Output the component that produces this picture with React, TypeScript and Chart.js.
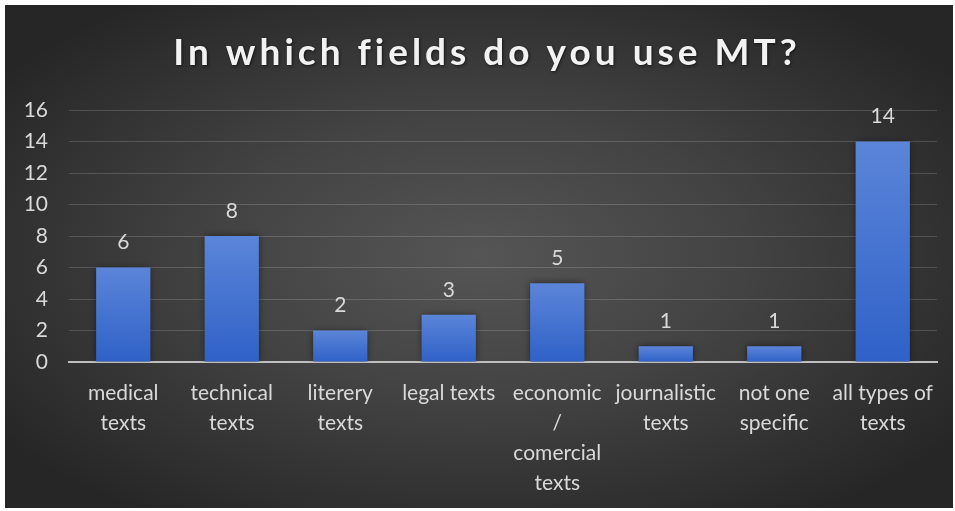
import React, { useEffect, useRef } from "react";
import { Chart, registerables } from "chart.js";

Chart.register(...registerables);

const titleText = "In which fields do you use MT?";
const categories: string[][] = [
  ["medical", "texts"],
  ["technical", "texts"],
  ["literery", "texts"],
  ["legal texts"],
  ["economic", "/", "comercial", "texts"],
  ["journalistic", "texts"],
  ["not one", "specific"],
  ["all types of", "texts"],
];
const values: number[] = [6, 8, 2, 3, 5, 1, 1, 14];
const yMax = 16;
const yStep = 2;

const FONT = "Lato, 'Open Sans', sans-serif";
const TEXT = "#d9d9d9";

const bgPlugin = {
  id: "bgPlugin",
  beforeDraw(chart: any) {
    const { ctx, width, height } = chart;
    ctx.save();
    ctx.fillStyle = "#2a2a2a";
    ctx.fillRect(0, 0, width, height);
    ctx.translate(width / 2, height / 2);
    ctx.scale(1, height / width);
    const r = width * 0.62;
    const g = ctx.createRadialGradient(0, 0, 0, 0, 0, r);
    g.addColorStop(0, "#555555");
    g.addColorStop(0.45, "#434343");
    g.addColorStop(1, "#262626");
    ctx.fillStyle = g;
    ctx.fillRect(-r, -r, 2 * r, 2 * r);
    ctx.restore();

    // title
    ctx.save();
    ctx.font = `bold 37px ${FONT}`;
    (ctx as any).letterSpacing = "4px";
    ctx.textAlign = "center";
    ctx.textBaseline = "alphabetic";
    ctx.fillStyle = "#f2f2f2";
    ctx.shadowColor = "rgba(0,0,0,0.6)";
    ctx.shadowBlur = 3;
    ctx.shadowOffsetX = 1;
    ctx.shadowOffsetY = 1;
    ctx.fillText(titleText, width / 2 + 8, 60);
    ctx.restore();
  },
  beforeDatasetsDraw(chart: any) {
    const ctx = chart.ctx;
    ctx.save();
    ctx.shadowColor = "rgba(0,0,0,0.55)";
    ctx.shadowBlur = 7;
    ctx.shadowOffsetX = 0;
    ctx.shadowOffsetY = 0;
  },
  afterDatasetsDraw(chart: any) {
    const ctx = chart.ctx;
    ctx.restore();
    const meta = chart.getDatasetMeta(0);
    ctx.save();
    ctx.fillStyle = TEXT;
    ctx.font = `21px ${FONT}`;
    ctx.textAlign = "center";
    ctx.textBaseline = "middle";
    meta.data.forEach((bar: any, i: number) => {
      ctx.fillText(String(chart.data.datasets[0].data[i]), bar.x, bar.y - 25);
    });
    ctx.restore();
  },
};

export default function App() {
  const ref = useRef<HTMLCanvasElement | null>(null);
  useEffect(() => {
    document.body.style.margin = "0";
    document.body.style.background = "#ffffff";
    const canvas = ref.current!;
    const chart = new Chart(canvas, {
      type: "bar",
      data: {
        labels: categories,
        datasets: [
          {
            data: values,
            backgroundColor: (c: any) => {
              const ch = c.chart;
              const ys = ch.scales && ch.scales.y;
              if (!ch.chartArea || !ys || c.raw === undefined) return "#4472c4";
              const top = ys.getPixelForValue(c.raw);
              const bot = ys.getPixelForValue(0);
              const g = ch.ctx.createLinearGradient(0, top, 0, bot);
              g.addColorStop(0, "#5b85d9");
              g.addColorStop(1, "#2f61c7");
              return g;
            },
            borderWidth: 0,
            barPercentage: 0.5,
            categoryPercentage: 1,
          },
        ],
      },
      options: {
        responsive: false,
        animation: false,
        layout: { padding: { left: 0, right: 16, top: 105, bottom: 0 } },
        plugins: {
          legend: { display: false },
          tooltip: { enabled: false },
          title: { display: false },
        },
        scales: {
          x: {
            grid: { display: false, drawTicks: false },
            border: { display: true, color: "#bfbfbf", width: 2 },
            ticks: {
              color: TEXT,
              font: { family: FONT, size: 21, lineHeight: 1.43 },
              padding: 16,
              maxRotation: 0,
              autoSkip: false,
            },
            afterFit: (s: any) => {
              s.height = 146;
            },
          },
          y: {
            min: 0,
            max: yMax,
            grid: { color: "rgba(255,255,255,0.16)", lineWidth: 1, drawTicks: false },
            border: { display: false },
            ticks: {
              stepSize: yStep,
              color: TEXT,
              font: { family: FONT, size: 21 },
              padding: 21,
            },
            afterFit: (s: any) => {
              s.width = 64;
            },
          },
        },
      },
      plugins: [bgPlugin],
    });
    return () => chart.destroy();
  }, []);
  return (
    <div style={{ padding: "5px 0 0 5px" }}>
      <canvas ref={ref} width={948} height={503} style={{ display: "block" }} />
    </div>
  );
}
